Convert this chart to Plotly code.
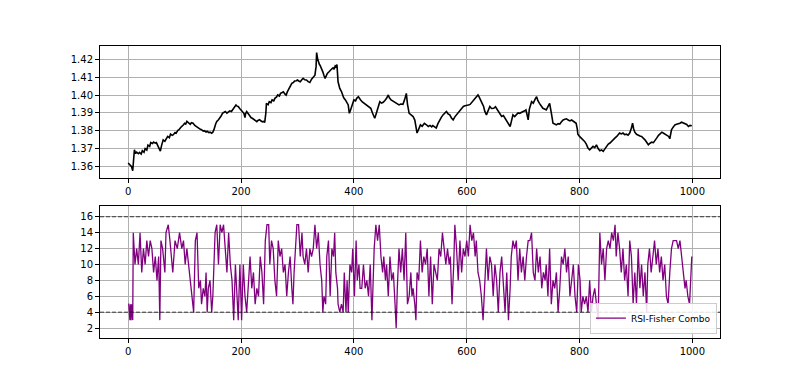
import plotly.graph_objects as go

# ---------------- data ----------------
price_idx = [0, 2, 4, 6, 8, 10, 11, 13, 15, 18, 20, 23, 25, 28, 30, 33, 35, 38, 40, 43, 45, 48, 50, 53, 55, 57, 59, 62, 65, 68,
             70, 73, 75, 78, 80, 83, 85, 88, 90, 93, 95, 98, 100, 102, 104, 107, 110, 112, 115, 118, 120, 123, 125, 128, 130,
             133, 135, 138, 140, 143, 145, 148, 150, 152, 155, 157, 160, 162, 165, 167, 170, 172, 175, 177, 180, 183, 185, 188,
             191, 193, 195, 198, 200, 203, 205, 207, 208, 210, 213, 215, 218, 220, 223, 225, 228, 230, 233, 235, 238, 240, 242,
             244, 245, 248, 250, 253, 255, 258, 260, 263, 265, 268, 270, 273, 275, 278, 280, 282, 285, 288, 290, 293, 295, 298,
             300, 303, 305, 308, 310, 313, 316, 319, 322, 325, 328, 331, 333, 334, 336, 337, 339, 340, 343, 345, 347, 349, 351,
             353, 356, 358, 361, 363, 365, 367, 369, 370, 371, 372, 374, 375, 378, 380, 382, 385, 387, 390, 391, 392, 394, 396,
             398, 400, 403, 405, 408, 410, 412, 415, 418, 421, 425, 428, 430, 433, 435, 437, 439, 441, 444, 446, 449, 452, 455,
             458, 461, 463, 466, 469, 472, 476, 480, 483, 487, 490, 493, 495, 498, 501, 505, 508, 510, 512, 515, 518, 521, 525,
             528, 532, 535, 538, 540, 543, 546, 549, 552, 555, 558, 561, 564, 567, 570, 573, 576, 579, 582, 585, 588, 591, 594,
             597, 600, 603, 606, 609, 612, 615, 618, 620, 622, 625, 628, 630, 632, 635, 638, 641, 644, 648, 651, 655, 658, 662,
             665, 668, 670, 672, 675, 677, 679, 682, 685, 688, 691, 694, 697, 700, 703, 705, 707, 709, 711, 713, 715, 718, 720,
             722, 724, 726, 729, 732, 735, 738, 741, 744, 747, 750, 753, 756, 759, 762, 765, 768, 771, 774, 777, 780, 783, 786,
             789, 792, 794, 796, 797, 800, 803, 806, 809, 812, 815, 818, 821, 824, 827, 830, 833, 836, 839, 842, 845, 848, 851,
             854, 857, 860, 863, 866, 869, 871, 874, 877, 880, 883, 886, 889, 892, 894, 896, 898, 901, 904, 907, 910, 913, 916,
             919, 922, 925, 928, 931, 934, 937, 940, 943, 946, 949, 952, 955, 958, 960, 963, 966, 969, 972, 975, 978, 981, 984,
             987, 990, 993, 996, 999]
price_val = [1.3619, 1.3612, 1.3605, 1.3598, 1.3575, 1.3640, 1.3693, 1.3672, 1.3680, 1.3671, 1.3678, 1.3669, 1.3688, 1.3679,
             1.3700, 1.3692, 1.3719, 1.3712, 1.3734, 1.3728, 1.3736, 1.3730, 1.3733, 1.3712, 1.3695, 1.3686, 1.3715, 1.3749,
             1.3741, 1.3762, 1.3768, 1.3761, 1.3781, 1.3774, 1.3778, 1.3790, 1.3786, 1.3802, 1.3806, 1.3818, 1.3823, 1.3834,
             1.3842, 1.3838, 1.3853, 1.3843, 1.3836, 1.3845, 1.3842, 1.3830, 1.3825, 1.3819, 1.3814, 1.3808, 1.3806, 1.3798,
             1.3800, 1.3793, 1.3797, 1.3790, 1.3792, 1.3786, 1.3792, 1.3806, 1.3838, 1.3852, 1.3862, 1.3870, 1.3884, 1.3898,
             1.3904, 1.3908, 1.3899, 1.3903, 1.3912, 1.3908, 1.3918, 1.3932, 1.3945, 1.3938, 1.3936, 1.3924, 1.3917, 1.3905,
             1.3898, 1.3874, 1.3895, 1.3908, 1.3892, 1.3881, 1.3873, 1.3870, 1.3862, 1.3858, 1.3851, 1.3858, 1.3862, 1.3856,
             1.3850, 1.3852, 1.3847, 1.3900, 1.3954, 1.3946, 1.3963, 1.3958, 1.3973, 1.3968, 1.3982, 1.3990, 1.4001, 1.3995,
             1.4010, 1.4015, 1.4019, 1.4005, 1.4000, 1.4018, 1.4038, 1.4050, 1.4066, 1.4072, 1.4079, 1.4081, 1.4085, 1.4078,
             1.4075, 1.4088, 1.4094, 1.4086, 1.4085, 1.4076, 1.4071, 1.4090, 1.4103, 1.4112, 1.4160, 1.4239, 1.4200, 1.4187,
             1.4172, 1.4168, 1.4150, 1.4131, 1.4110, 1.4094, 1.4108, 1.4122, 1.4131, 1.4140, 1.4148, 1.4153, 1.4145, 1.4165,
             1.4160, 1.4172, 1.4120, 1.4075, 1.4050, 1.4038, 1.4020, 1.4001, 1.3985, 1.3973, 1.3958, 1.3945, 1.3920, 1.3898,
             1.3915, 1.3936, 1.3950, 1.3973, 1.3968, 1.3982, 1.3991, 1.3980, 1.3973, 1.3962, 1.3954, 1.3948, 1.3936, 1.3930,
             1.3926, 1.3900, 1.3885, 1.3870, 1.3890, 1.3908, 1.3940, 1.3963, 1.3955, 1.3960, 1.3970, 1.3982, 1.4001, 1.3985,
             1.3973, 1.3968, 1.3963, 1.3955, 1.3945, 1.3950, 1.3948, 1.3975, 1.4010, 1.3950, 1.3898, 1.3890, 1.3880, 1.3860,
             1.3820, 1.3787, 1.3810, 1.3833, 1.3825, 1.3842, 1.3835, 1.3824, 1.3830, 1.3822, 1.3829, 1.3820, 1.3815, 1.3840,
             1.3861, 1.3875, 1.3889, 1.3900, 1.3908, 1.3895, 1.3889, 1.3872, 1.3861, 1.3878, 1.3889, 1.3905, 1.3917, 1.3925,
             1.3936, 1.3940, 1.3941, 1.3945, 1.3948, 1.3960, 1.3967, 1.3980, 1.3992, 1.4001, 1.3990, 1.3973, 1.3950, 1.3936,
             1.3910, 1.3889, 1.3915, 1.3936, 1.3925, 1.3926, 1.3935, 1.3917, 1.3900, 1.3880, 1.3885, 1.3870, 1.3860, 1.3852,
             1.3835, 1.3824, 1.3850, 1.3889, 1.3880, 1.3889, 1.3900, 1.3898, 1.3905, 1.3908, 1.3912, 1.3917, 1.3890, 1.3861,
             1.3920, 1.3950, 1.3963, 1.3955, 1.3973, 1.3982, 1.3991, 1.3970, 1.3954, 1.3940, 1.3926, 1.3922, 1.3917, 1.3935,
             1.3954, 1.3900, 1.3842, 1.3838, 1.3833, 1.3840, 1.3837, 1.3850, 1.3861, 1.3864, 1.3867, 1.3860, 1.3855, 1.3860,
             1.3852, 1.3848, 1.3842, 1.3810, 1.3781, 1.3768, 1.3759, 1.3750, 1.3740, 1.3725, 1.3703, 1.3693, 1.3700, 1.3712,
             1.3705, 1.3721, 1.3700, 1.3688, 1.3692, 1.3684, 1.3698, 1.3712, 1.3725, 1.3731, 1.3742, 1.3749, 1.3760, 1.3768,
             1.3780, 1.3787, 1.3782, 1.3787, 1.3778, 1.3781, 1.3775, 1.3787, 1.3815, 1.3842, 1.3810, 1.3792, 1.3780, 1.3774,
             1.3770, 1.3768, 1.3760, 1.3749, 1.3735, 1.3721, 1.3730, 1.3736, 1.3733, 1.3744, 1.3760, 1.3774, 1.3785, 1.3792,
             1.3786, 1.3781, 1.3776, 1.3768, 1.3755, 1.3805, 1.3820, 1.3833, 1.3836, 1.3837, 1.3842, 1.3848, 1.3845, 1.3841,
             1.3835, 1.3824, 1.3830, 1.3828]

combo_idx = [0, 1, 2, 3, 4, 5, 6, 7, 8, 9, 12, 15, 18, 21, 24, 27, 30, 33, 36, 39, 42, 45, 48, 51, 54, 56, 58, 61, 65, 67,
             71, 74, 77, 79, 83, 87, 91, 95, 98, 101, 104, 107, 110, 113, 116, 119, 122, 125, 128, 130, 133, 136, 138, 140,
             142, 145, 148, 150, 154, 157, 160, 163, 166, 169, 172, 175, 178, 181, 184, 187, 190, 192, 195, 198, 201, 204,
             207, 210, 213, 216, 219, 222, 225, 228, 231, 234, 237, 240, 243, 246, 249, 251, 254, 257, 260, 263, 266, 269,
             272, 275, 278, 281, 284, 287, 290, 292, 294, 296, 299, 302, 305, 308, 310, 313, 316, 319,
             322, 325, 328, 331, 334, 337, 340, 343, 345, 347, 350, 352, 355, 358, 361, 364, 366, 368, 371, 372, 375, 378,
             381, 383, 386, 388, 390, 393, 396, 398, 401, 404, 406, 409, 411, 414, 417, 420, 423, 426, 429, 432, 433, 436,
             439, 442, 445, 448, 451, 453, 456, 458, 461, 464, 467, 470, 473, 475, 477, 480, 483, 486, 489, 492, 494, 495,
             498, 501, 503, 505, 508, 510, 512, 515, 518, 521, 524, 527, 530, 533, 536, 539, 542, 545, 548, 551, 554, 557,
             560, 563, 566, 569, 571, 574, 577, 579, 582, 585, 588, 591, 594, 597, 600, 603, 606, 609, 612, 615, 617, 620,
             623, 626, 629, 632, 635, 638, 641, 644, 647, 650, 653, 656,
             659, 662, 665, 668, 671, 674, 677, 679, 682, 685, 688, 691, 694, 697, 700, 703, 706, 709, 712, 715, 718, 721,
             724, 727, 730, 733, 736, 739, 741, 744, 747, 750, 753, 756, 759, 762, 765, 768, 771, 774, 777, 780, 783, 786,
             789, 792, 795, 798, 801, 803, 806, 809, 812, 815, 818, 821, 824, 827, 830, 833, 836, 839, 842, 845, 848, 851,
             854, 857, 860, 863, 865, 868, 871, 874, 877, 880, 883, 886, 889, 892, 895, 898, 901, 904, 907, 910, 913, 916,
             919, 921, 924, 927, 930, 933, 936, 939, 942, 945, 948, 951, 954, 957, 960, 963, 966, 969, 972, 975, 978, 981,
             984, 987, 989, 992, 995, 999]
combo_val = [5, 5, 4, 3, 5, 3, 5, 4, 3, 14, 10, 12, 10, 14, 9, 12, 10, 13, 11, 13, 12, 9, 11, 8, 11, 3, 13, 12, 9, 14,
             15, 13, 11, 9, 13, 12, 14, 12, 13, 10, 12, 10, 8, 6, 4, 13, 14, 7, 8, 5, 7, 6, 9, 4,
             7, 8, 4, 6, 14, 15, 10, 15, 14, 15, 12, 9, 14, 10, 8, 3, 10, 7, 3, 10, 3, 10,
             6, 4, 8, 11, 7, 9, 5, 7, 6, 11, 9, 5, 13, 15, 15, 10, 13, 12, 8, 6, 13, 11,
             12, 9, 10, 6, 9, 11, 7, 5, 9, 12, 15, 15, 11, 14, 11, 10, 12, 9,
             12, 11, 12, 15, 12, 14, 10, 8, 4, 6, 5, 11, 13, 6, 12, 11, 14, 9, 7, 5, 4, 5,
             4, 9, 4, 8, 4, 10, 9, 12, 6, 13, 8, 10, 7, 7, 10, 7, 8, 6, 10, 3, 6, 12,
             15, 13, 15, 11, 9, 11, 8, 10, 6, 11, 8, 9, 5, 2, 7, 12, 9, 12, 8, 14, 8, 5,
             6, 9, 6, 7, 5, 3, 9, 8, 13, 9, 11, 10, 12, 6, 11, 5, 10, 9, 8, 12, 11, 14,
             12, 10, 12, 10, 11, 5, 10, 15, 12, 8, 13, 9, 12, 11, 13, 11, 15, 13, 14, 11, 13, 9,
             8, 6, 3, 7, 12, 8, 11, 10, 6, 10, 8, 4,
             9, 11, 7, 4, 9, 3, 7, 11, 13, 12, 13, 8, 12, 9, 11, 8, 11, 13, 13, 14, 9, 8,
             12, 9, 11, 7, 9, 8, 10, 6, 12, 5, 8, 7, 9, 4, 7, 11, 10, 12, 9, 11, 6, 8,
             10, 6, 4, 10, 8, 4, 6, 5, 6, 4, 8, 4, 6, 7, 5, 3, 14, 10, 12, 8, 12, 13,
             12, 14, 13, 15, 11, 14, 12, 9, 12, 8, 10, 6, 13, 11, 5, 9, 5, 12, 7, 10, 6, 9,
             4, 10, 12, 9, 11, 13, 10, 12, 9, 11, 8, 10, 6, 5, 9, 12, 13, 13, 13, 12, 13, 11,
             9, 7, 8, 6, 5, 11]

x_ticks = [0, 200, 400, 600, 800, 1000]
price_ticks = [1.36, 1.37, 1.38, 1.39, 1.40, 1.41, 1.42]
combo_ticks = [2, 4, 6, 8, 10, 12, 14, 16]
combo_levels = [4, 16]

# ---------------- figure ----------------
fig = go.Figure()
fig.add_trace(go.Scatter(x=price_idx, y=price_val, mode="lines", line=dict(color="black", width=1.6),
                         showlegend=False, xaxis="x", yaxis="y"))
fig.add_trace(go.Scatter(x=combo_idx, y=combo_val, mode="lines", line=dict(color="#800080", width=1.3),
                         name="RSI-Fisher Combo", xaxis="x2", yaxis="y2"))

for lvl in combo_levels:
    fig.add_shape(type="line", xref="x2 domain", yref="y2", x0=0, x1=1, y0=lvl, y1=lvl,
                  line=dict(color="rgba(0,0,0,0.7)", width=1, dash="4px,2px"))

axis_common = dict(showline=True, mirror=True, linecolor="black", linewidth=1,
                   showgrid=True, gridcolor="#b0b0b0", gridwidth=0.8,
                   ticks="outside", ticklen=4, tickcolor="black", tickwidth=1,
                   zeroline=False, tickfont=dict(family="DejaVu Sans", size=10, color="black"))

fig.update_layout(
    width=800, height=380,
    margin=dict(l=92, r=88, t=38, b=50),
    paper_bgcolor="white", plot_bgcolor="white",
    font=dict(family="DejaVu Sans", size=10, color="black"),
    xaxis=dict(domain=[0, 1], anchor="y", range=[-50, 1049], tickvals=x_ticks, **axis_common),
    yaxis=dict(domain=[0.547, 1], anchor="x", range=[1.3533, 1.4276], tickvals=price_ticks,
               tickformat=".2f", **axis_common),
    xaxis2=dict(domain=[0, 1], anchor="y2", range=[-50, 1049], tickvals=x_ticks, **axis_common),
    yaxis2=dict(domain=[0, 0.453], anchor="x2", range=[0.75, 17.39], tickvals=combo_ticks, **axis_common),
    legend=dict(x=0.995, y=0.015, xanchor="right", yanchor="bottom", itemwidth=30,
                bgcolor="rgba(255,255,255,0.85)", bordercolor="#cccccc", borderwidth=1,
                font=dict(family="DejaVu Sans", size=9, color="black")),
)

fig.write_html("out.html")
